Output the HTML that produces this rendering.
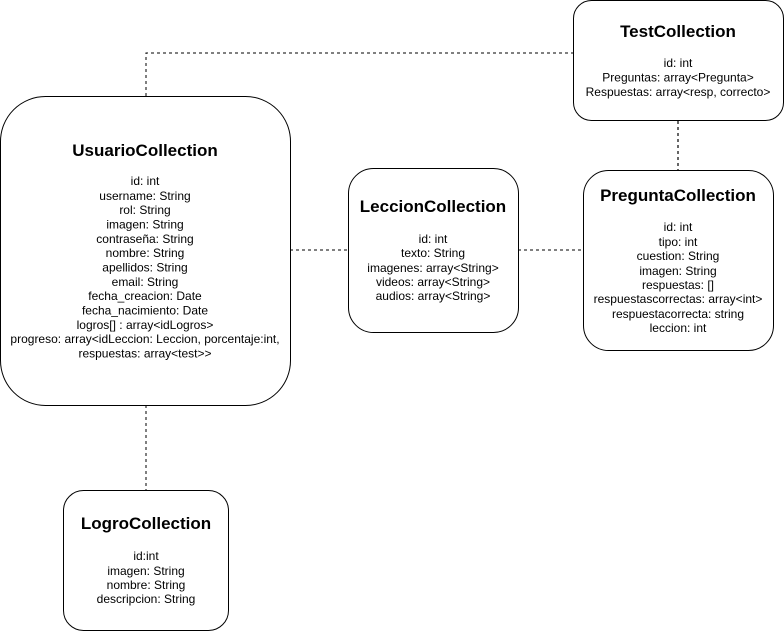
<!DOCTYPE html>
<html><head><meta charset="utf-8"><style>body{margin:0;background:#fff}svg{display:block}</style></head><body>
<svg width="784" height="631" xmlns="http://www.w3.org/2000/svg" font-family="Liberation Sans, sans-serif">
<g fill="none" stroke="#000" stroke-width="1" stroke-dasharray="3,3">
<path d="M146 96V53H573"/>
<path d="M290 250H348"/>
<path d="M518 250H583"/>
<path d="M146 405V490"/>
<path d="M678 121V170" stroke="#666" stroke-width="2"/>
</g>
<g fill="#fff" stroke="#000" stroke-width="1">
<rect x="573.5" y="0.5" width="210" height="120" rx="18"/>
<rect x="0.5" y="96.5" width="290" height="309" rx="45"/>
<rect x="348.5" y="168.5" width="170" height="164" rx="25"/>
<rect x="583.5" y="170.5" width="190" height="180" rx="25"/>
<rect x="63.5" y="490.5" width="165" height="140" rx="20"/>
</g>
<g text-anchor="middle" font-weight="bold" font-size="17">
<text x="678" y="37">TestCollection</text>
<text x="145" y="156">UsuarioCollection</text>
<text x="433" y="212">LeccionCollection</text>
<text x="678" y="201">PreguntaCollection</text>
<text x="146" y="529">LogroCollection</text>
</g>
<g text-anchor="middle" font-size="12">
<text x="678" y="67">id: int</text>
<text x="678" y="81.5">Preguntas: array&lt;Pregunta&gt;</text>
<text x="678" y="96">Respuestas: array&lt;resp, correcto&gt;</text>

<text x="145" y="185">id: int</text>
<text x="145" y="200">username: String</text>
<text x="145" y="214">rol: String</text>
<text x="145" y="228.5">imagen: String</text>
<text x="145" y="243">contraseña: String</text>
<text x="145" y="257">nombre: String</text>
<text x="145" y="271.5">apellidos: String</text>
<text x="145" y="286">email: String</text>
<text x="145" y="300">fecha_creacion: Date</text>
<text x="145" y="314.5">fecha_nacimiento: Date</text>
<text x="145" y="329">logros[] : array&lt;idLogros&gt;</text>
<text x="145" y="343">progreso: array&lt;idLeccion: Leccion, porcentaje:int,</text>
<text x="145" y="357.5">respuestas: array&lt;test&gt;&gt;</text>

<text x="433" y="243">id: int</text>
<text x="433" y="257">texto: String</text>
<text x="433" y="272">imagenes: array&lt;String&gt;</text>
<text x="433" y="286">videos: array&lt;String&gt;</text>
<text x="433" y="300">audios: array&lt;String&gt;</text>

<text x="678" y="231">id: int</text>
<text x="678" y="246">tipo: int</text>
<text x="678" y="260">cuestion: String</text>
<text x="678" y="275">imagen: String</text>
<text x="678" y="289">respuestas: []</text>
<text x="678" y="303">respuestascorrectas: array&lt;int&gt;</text>
<text x="678" y="318">respuestacorrecta: string</text>
<text x="678" y="332">leccion: int</text>

<text x="146" y="560">id:int</text>
<text x="146" y="575">imagen: String</text>
<text x="146" y="589">nombre: String</text>
<text x="146" y="603">descripcion: String</text>
</g>
</svg>
</body></html>
